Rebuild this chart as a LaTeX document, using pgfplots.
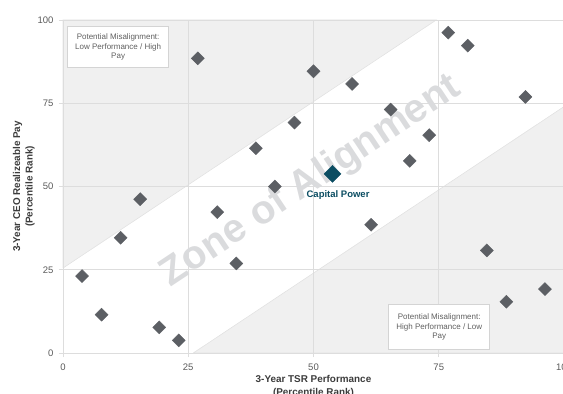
\documentclass[border=0pt]{standalone}
\usepackage{pgfplots}
\usepackage{pgfplotstable}
\pgfplotsset{compat=1.18}
\usepackage{fontspec}
\setmainfont{Liberation Sans}
\definecolor{band}{HTML}{F0F0F0}
\definecolor{bandline}{HTML}{E2E2E2}
\definecolor{gridc}{HTML}{DDDDDD}
\definecolor{mk}{HTML}{5C5F64}
\definecolor{teal}{HTML}{0B4D62}
\definecolor{zone}{HTML}{DADBDD}
\definecolor{tickc}{HTML}{5A5A5A}
\definecolor{labc}{HTML}{3C3C3C}
\definecolor{boxt}{HTML}{606060}
\definecolor{boxd}{HTML}{D4D4D4}
\pgfplotstableread{
px py
3.8 23.1
7.7 11.5
11.5 34.6
15.4 46.2
19.2 7.7
23.1 3.8
26.9 88.5
30.8 42.3
34.6 26.9
38.5 61.5
42.3 50.0
46.2 69.2
50.0 84.6
57.7 80.8
61.5 38.5
65.4 73.1
69.2 57.7
73.1 65.4
76.9 96.2
80.8 92.3
84.6 30.8
88.5 15.4
92.3 76.9
96.2 19.2
}\peers
\begin{document}
\begin{tikzpicture}
\begin{axis}[
  set layers=standard,
  at={(63pt,41pt)}, anchor=south west,
  scale only axis, width=501pt, height=333pt,
  xmin=0, xmax=100, ymin=0, ymax=100,
  xtick={0,25,50,75,100}, ytick={0,25,50,75,100},
  grid=major, grid style={gridc, line width=0.6pt},
  axis line style={gridc, line width=0.8pt},
  tick align=outside, major tick length=4pt,
  tick style={gridc, line width=0.6pt},
  xtick pos=bottom, ytick pos=left,
  tick label style={font=\fontsize{9.5}{11}\selectfont, text=tickc},
  /pgf/number format/assume math mode=true,
  xticklabel style={yshift=-3pt},
  yticklabel style={xshift=-2pt},
  xlabel={3-Year TSR Performance\\(Percentile Rank)},
  ylabel={3-Year CEO Realizeable Pay\\(Percentile Rank)},
  label style={font=\bfseries\fontsize{9.9}{12.5}\selectfont, text=labc, align=center},
  xlabel style={at={(axis description cs:0.5,-0.101)}, anchor=center},
  ylabel style={at={(axis description cs:-0.078,0.5)}, anchor=center},
  clip=false,
]
\addplot[on layer=axis background, fill=band, draw=bandline, line width=0.6pt] coordinates {(0,25.5) (74.5,100) (0,100) (0,25.5)};
\addplot[on layer=axis background, fill=band, draw=bandline, line width=0.6pt] coordinates {(26,0) (100,74) (100,0) (26,0)};
\node[rotate=33.6, text=zone, font=\bfseries\fontsize{40}{40}\selectfont] at (axis cs:49.5,51.5) {Zone of Alignment};
\addplot[only marks, mark=square*, mark size=4.6pt, mark options={rotate=45, fill=mk, draw=mk}] table[x=px, y=py] {\peers};
\addplot[only marks, mark=square*, mark size=6pt, mark options={rotate=45, fill=teal, draw=teal}] coordinates {(53.8,53.8)};
\node[text=teal, font=\bfseries\fontsize{9.5}{11}\selectfont] at (axis cs:54.9,47.5) {Capital Power};
\node[draw=boxd, fill=white, text=boxt, align=center, font=\fontsize{8}{9.7}\selectfont, minimum width=101pt, minimum height=41pt, inner sep=1pt, line width=0.6pt] at (axis cs:11,91.9) {Potential Misalignment:\\Low Performance / High\\Pay};
\node[draw=boxd, fill=white, text=boxt, align=center, font=\fontsize{8}{9.7}\selectfont, minimum width=101pt, minimum height=45pt, inner sep=1pt, line width=0.6pt] at (axis cs:75.1,7.8) {Potential Misalignment:\\High Performance / Low\\Pay};
\end{axis}
\pgfresetboundingbox
\useasboundingbox (0pt,0pt) rectangle (563pt,394pt);
\end{tikzpicture}
\end{document}
